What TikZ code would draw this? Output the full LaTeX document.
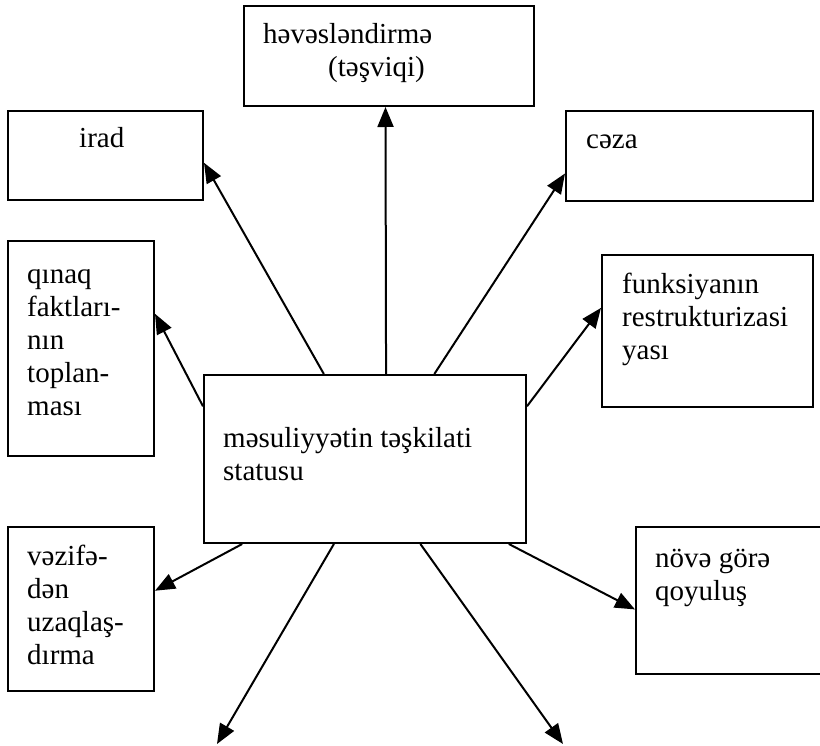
\documentclass[tikz,border=0pt]{standalone}
\usepackage{fontspec}
\setmainfont{Liberation Serif}
\usetikzlibrary{arrows.meta,calc}
\begin{document}
\begin{tikzpicture}[x=1pt,y=-1pt,
  box/.style={draw,line width=2pt,rectangle,inner sep=0pt,anchor=north west},
  lbl/.style={anchor=north west,inner sep=0pt,align=left,font=\fontsize{29}{33}\selectfont},
  link/.style={line width=2pt,-{Triangle[length=20pt,width=16pt]}}]
\useasboundingbox (0,0) rectangle (820,746);

% boxes
\node[box,minimum width=290pt,minimum height=100pt] (top) at (243,5) {};
\node[box,minimum width=195pt,minimum height=89pt] (irad) at (7,110) {};
\node[box,minimum width=247pt,minimum height=90pt] (ceza) at (565,110) {};
\node[box,minimum width=146pt,minimum height=215pt] (qinaq) at (7,240) {};
\node[box,minimum width=322pt,minimum height=168pt] (mid) at (203,374) {};
\node[box,minimum width=211pt,minimum height=152pt] (funk) at (601,254) {};
\node[box,minimum width=146pt,minimum height=164pt] (vezife) at (7,526) {};
\node[box,minimum width=200pt,minimum height=147pt] (nove) at (635,526) {};

% labels
\node[lbl] (ttop) at (263,19.9) {\strut həvəsləndirmə\\\hspace*{65pt}(təşviqi)};
\node[lbl] (tirad) at (79,123.9) {\strut irad};
\node[lbl] (tceza) at (586,124.9) {\strut cəza};
\node[lbl] (tqinaq) at (27,259.9) {\strut qınaq\\faktları-\\nın\\toplan-\\ması};
\node[lbl] (tmid) at (223,423.9) {\strut məsuliyyətin təşkilati\\statusu};
\node[lbl] (tfunk) at (622,269.9) {\strut funksiyanın\\restrukturizasi\\yası};
\node[lbl] (tvezife) at (27,541.9) {\strut vəzifə-\\dən\\uzaqlaş-\\dırma};
\node[lbl] (tnove) at (655,543.9) {\strut növə görə\\qoyuluş};

% free ends of the two lower arrows
\coordinate (downL) at (217,744);
\coordinate (downR) at (563,744);

% connectors
\draw[link] ($(mid.north west)!0.565!(mid.north east)$) -- ($(top.south west)!0.488!(top.south east)$);
\draw[link] ($(mid.north west)!0.373!(mid.north east)$) -- ($(irad.north east)!0.58!(irad.south east)$);
\draw[link] ($(mid.north west)!0.714!(mid.north east)$) -- ($(ceza.north west)!0.69!(ceza.south west)$);
\draw[link] ($(mid.north west)!0.19!(mid.south west)$) -- ($(qinaq.north east)!0.34!(qinaq.south east)$);
\draw[link] ($(mid.north east)!0.19!(mid.south east)$) -- ($(funk.north west)!0.35!(funk.south west)$);
\draw[link] ($(mid.south west)!0.121!(mid.south east)$) -- ($(vezife.north east)!0.39!(vezife.south east)$);
\draw[link] ($(mid.south west)!0.404!(mid.south east)$) -- (downL);
\draw[link] ($(mid.south west)!0.671!(mid.south east)$) -- (downR);
\draw[link] ($(mid.south west)!0.944!(mid.south east)$) -- ($(nove.north west)!0.56!(nove.south west)$);
\end{tikzpicture}
\end{document}
